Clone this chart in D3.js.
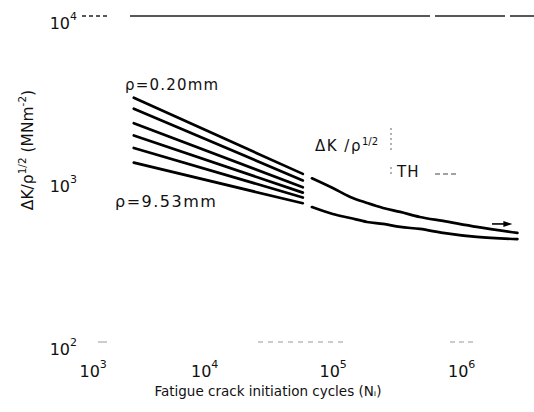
<!DOCTYPE html>
<html><head><meta charset="utf-8">
<script src="https://cdn.jsdelivr.net/npm/d3@7"></script>
<style>body{margin:0;background:#fff}svg{display:block}</style>
</head><body><svg id="c" width="534" height="412"></svg>
<script>
// Short-life range: one straight log-log line per notch radius (0.20 mm at top ... 9.53 mm at bottom)
const shortCycles = [3000, 62000];
const shortStart = [3150, 2700, 2200, 1850, 1550, 1260];
const shortEnd = [1075, 980, 890, 825, 770, 710];
const radiusLabels = ["ρ=0.20mm", "ρ=9.53mm"];

// Long-life range: two curves approaching the threshold
const longCycles = [73000, 106000, 145000, 196000, 261000, 355000, 505000, 765000, 1400000, 2900000];
const longUpper = [1010, 880, 776, 713, 664, 628, 585, 553, 508, 467];
const longLower = [673, 610, 576, 545, 530, 508, 494, 467, 441, 428];

// Run-out arrow (cycles from, to; stress-intensity level)
const arrowCycles = [1840000, 2650000];
const arrowLevel = 530;

const xTicks = [1e3, 1e4, 1e5, 1e6];
const xTickExp = ["3", "4", "5", "6"];
const yTicks = [1e2, 1e3, 1e4];
const yTickExp = ["2", "3", "4"];

const xTitle = "Fatigue crack initiation cycles (Nᵢ)";
const yTitle = ["ΔK/ρ", "1/2", " (MNm", "-2", ")"];

const svg = d3.select("#c");
const W = 534;
const x = d3.scaleLog().domain([1e3, 1e6]).range([72.5, 458]);
const y = d3.scaleLog().domain([1e2, 1e4]).range([342, 16]);
const font = "'DejaVu Sans', sans-serif";

// faded frame lines (top at 10^4, bottom axis at 10^2)
svg.append("line").attr("x1", x(1e3)).attr("x2", W).attr("y1", y(1e4)).attr("y2", y(1e4))
  .attr("stroke", "#222").attr("stroke-width", 1.3)
  .attr("stroke-dasharray", "0 9.5 4 3 4 3 4 3 4 23 300 5 70 5 30 400");
svg.append("line").attr("x1", x(1e3)).attr("x2", W).attr("y1", y(1e2)).attr("y2", y(1e2))
  .attr("stroke", "#999").attr("stroke-width", 1)
  .attr("stroke-dasharray", "0 25.5 9 151 5 5 5 5 5 5 5 5 5 5 5 5 5 5 5 5 5 5 0 102 5 4 5 4 5 400");

// x tick labels
const xl = svg.append("g").attr("font-family", font).attr("fill", "#111");
xTicks.forEach((v, i) => {
  const t = xl.append("text").attr("x", x(v) - 10 + (i === 0 ? 17 : 0)).attr("y", 377).attr("font-size", 16);
  t.append("tspan").text("10");
  t.append("tspan").attr("font-size", 11).attr("dy", -9).text(xTickExp[i]);
});

// y tick labels
const yl = svg.append("g").attr("font-family", font).attr("fill", "#111");
yTicks.forEach((v, i) => {
  const t = yl.append("text").attr("x", 77).attr("y", y(v) + 13).attr("text-anchor", "end").attr("font-size", 16);
  t.append("tspan").text("10");
  t.append("tspan").attr("font-size", 11).attr("dy", -9).text(yTickExp[i]);
});

// axis titles
svg.append("text").attr("x", 268).attr("y", 396).attr("text-anchor", "middle")
  .attr("font-family", font).attr("font-size", 13.5).attr("fill", "#111").text(xTitle);
const yt = svg.append("text").attr("transform", "translate(33,150) rotate(-90)")
  .attr("text-anchor", "middle").attr("font-family", font).attr("font-size", 15.5).attr("fill", "#111");
yt.append("tspan").text(yTitle[0]);
yt.append("tspan").attr("font-size", 10.5).attr("dy", -7).text(yTitle[1]);
yt.append("tspan").attr("dy", 7).text(yTitle[2]);
yt.append("tspan").attr("font-size", 10.5).attr("dy", -7).text(yTitle[3]);
yt.append("tspan").attr("dy", 7).text(yTitle[4]);

// data lines
const line = d3.line().x(d => x(d[0])).y(d => y(d[1]));
const curve = d3.line().x(d => x(d[0])).y(d => y(d[1])).curve(d3.curveMonotoneX);
const lines = svg.append("g").attr("fill", "none").attr("stroke", "#000").attr("stroke-width", 2.7)
  .attr("stroke-linecap", "round");
shortStart.forEach((s, i) => {
  lines.append("path").attr("d", line([[shortCycles[0], s], [shortCycles[1], shortEnd[i]]]));
});
[longUpper, longLower].forEach(series => {
  lines.append("path").attr("d", curve(longCycles.map((c, i) => [c, series[i]])));
});

// run-out arrow
const ay = y(arrowLevel), ax0 = x(arrowCycles[0]), ax1 = x(arrowCycles[1]);
svg.append("line").attr("x1", ax0).attr("x2", ax1 - 6).attr("y1", ay).attr("y2", ay)
  .attr("stroke", "#000").attr("stroke-width", 1.6);
svg.append("path").attr("d", `M${ax1},${ay} L${ax1 - 9},${ay - 3} L${ax1 - 9},${ay + 3} Z`).attr("fill", "#000");

// radius labels
svg.append("text").attr("x", 125).attr("y", 90).attr("font-family", font).attr("font-size", 15)
  .attr("letter-spacing", 1.2).attr("fill", "#111").text(radiusLabels[0]);
svg.append("text").attr("x", 115).attr("y", 207).attr("font-family", font).attr("font-size", 16)
  .attr("letter-spacing", 1.5).attr("fill", "#111").text(radiusLabels[1]);

// threshold label
const th = svg.append("text").attr("x", 315).attr("y", 151).attr("font-family", font)
  .attr("font-size", 15).attr("letter-spacing", 1.5).attr("fill", "#111");
th.append("tspan").text("ΔK /ρ");
th.append("tspan").attr("font-size", 10).attr("letter-spacing", 0).attr("dy", -6).text("1/2");
svg.append("text").attr("x", 397).attr("y", 177).attr("font-family", font).attr("font-size", 15)
  .attr("letter-spacing", 1).attr("fill", "#111").text("TH");
svg.append("line").attr("x1", 391).attr("x2", 391).attr("y1", 128).attr("y2", 176)
  .attr("stroke", "#666").attr("stroke-width", 1).attr("stroke-dasharray", "2 3 2 3 2 3 2 3 2 3 0 14 2 3 2 3");
svg.append("line").attr("x1", 435).attr("x2", 457).attr("y1", 174).attr("y2", 174)
  .attr("stroke", "#444").attr("stroke-width", 1.2).attr("stroke-dasharray", "5 3");
</script></body></html>
